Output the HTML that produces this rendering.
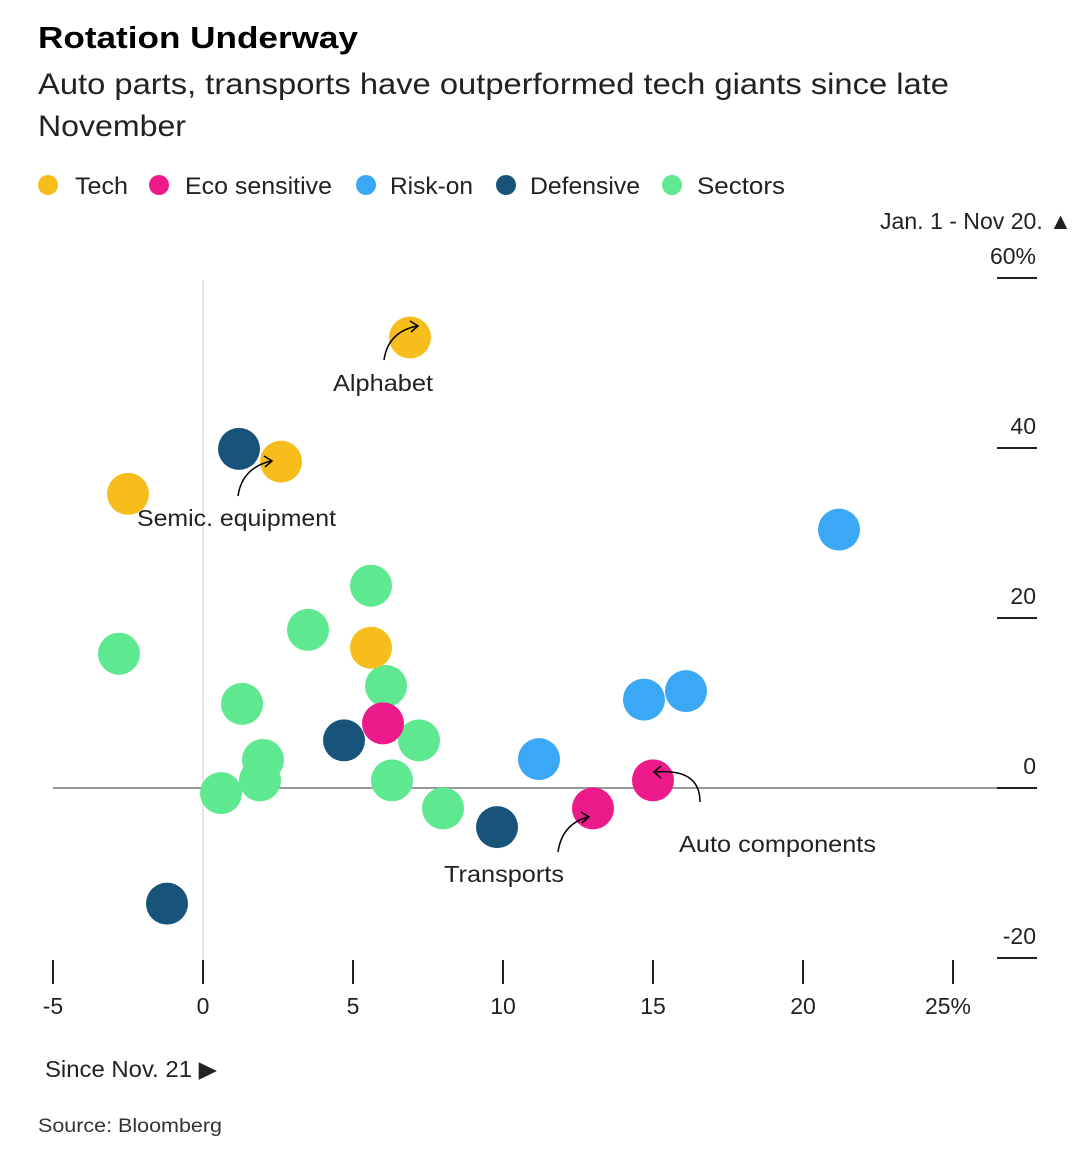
<!DOCTYPE html>
<html><head><meta charset="utf-8"><style>
body{margin:0;background:#fff;font-family:"Liberation Sans",Arial,sans-serif;}
svg text{font-family:"Liberation Sans",Arial,sans-serif;}
</style></head><body>
<svg width="1092" height="1152">
<text x="38" y="48" font-size="31" font-weight="bold" fill="#000" textLength="320" lengthAdjust="spacingAndGlyphs">Rotation Underway</text>
<text x="38" y="94" font-size="30" fill="#222" textLength="911" lengthAdjust="spacingAndGlyphs">Auto parts, transports have outperformed tech giants since late</text>
<text x="38" y="136" font-size="30" fill="#222" textLength="148" lengthAdjust="spacingAndGlyphs">November</text>
<g id="legend"></g>
<text x="880" y="229" font-size="23" fill="#222" textLength="192" lengthAdjust="spacingAndGlyphs">Jan. 1 - Nov 20. ▲</text>
<g id="axes"></g>
<g id="marks"></g>
<g id="annot" font-size="23" fill="#222">
<text x="333" y="391" textLength="100" lengthAdjust="spacingAndGlyphs">Alphabet</text>
<path d="M384 360 Q388 332 417 326" fill="none" stroke="#000" stroke-width="1.5"/><path d="M410 321 L418 326 L411 332" fill="none" stroke="#000" stroke-width="1.5"/>
<text x="137" y="526" textLength="199" lengthAdjust="spacingAndGlyphs">Semic. equipment</text>
<path d="M238 496 Q242 468 271 461" fill="none" stroke="#000" stroke-width="1.5"/><path d="M264 456 L272 461 L265 467" fill="none" stroke="#000" stroke-width="1.5"/>
<text x="444" y="882" textLength="120" lengthAdjust="spacingAndGlyphs">Transports</text>
<path d="M558 852 Q562 824 588 817" fill="none" stroke="#000" stroke-width="1.5"/><path d="M581 812 L589 817 L582 823" fill="none" stroke="#000" stroke-width="1.5"/>
<text x="679" y="852" textLength="197" lengthAdjust="spacingAndGlyphs">Auto components</text>
<path d="M700 802 Q700 768 655 772" fill="none" stroke="#000" stroke-width="1.5"/><path d="M661 766 L654 772 L661 778" fill="none" stroke="#000" stroke-width="1.5"/>
</g>
<text x="45" y="1077" font-size="23" fill="#222" textLength="172" lengthAdjust="spacingAndGlyphs">Since Nov. 21 ▶</text>
<text x="38" y="1132" font-size="19" fill="#333" textLength="184" lengthAdjust="spacingAndGlyphs">Source: Bloomberg</text>
</svg>
<script>
const xTicks=[-5,0,5,10,15,20,25];
const xTickLabels=["-5","0","5","10","15","20","25%"];
const yTicks=[-20,0,20,40,60];
const yTickLabels=["-20","0","20","40","60%"];
const groups=["Tech","Eco sensitive","Risk-on","Defensive","Sectors"];
const colors=["#f7bd1c","#ec1a8a","#3aa8f4","#18537a","#5ee890"];
const techX=[6.9,2.6,-2.5,5.6], techY=[53,38.4,34.6,16.5];
const ecoX=[6.0,13.0,15.0], ecoY=[7.6,-2.4,0.9];
const riskX=[21.2,14.7,16.1,11.2], riskY=[30.4,10.4,11.4,3.4];
const defX=[1.2,4.7,9.8,-1.2], defY=[39.9,5.6,-4.6,-13.6];
const secX=[-2.8,1.3,3.5,5.6,6.1,7.2,2.0,1.9,0.6,6.3,8.0], secY=[15.8,9.9,18.6,23.8,12.0,5.6,3.3,0.9,-0.6,0.9,-2.4];
const NS="http://www.w3.org/2000/svg";
const xs=v=>203+30*v, ys=v=>788-8.5*v;
function mk(t,a,p){const e=document.createElementNS(NS,t);for(const k in a)e.setAttribute(k,a[k]);p.appendChild(e);return e;}
const lg=document.getElementById('legend');
const ldot=[48,159,366,506,672], ltx=[75,185,390,530,697], ltw=[53,147,83,110,88];
groups.forEach((g,i)=>{const c=mk('circle',{cx:ldot[i],cy:185,r:10,fill:colors[i]},lg);


const t=mk('text',{x:ltx[i],y:194,'font-size':24,fill:'#222',textLength:ltw[i],lengthAdjust:'spacingAndGlyphs'},lg);t.textContent=g;

});
const ax=document.getElementById('axes');
const vl=mk('line',{x1:xs(0),x2:xs(0),y1:280,y2:960,stroke:'#ddd','stroke-width':1.5},ax);


const zl=mk('line',{x1:53,x2:1037,y1:ys(0),y2:ys(0),stroke:'#999','stroke-width':2},ax);


xTicks.forEach((v,i)=>{const l=mk('line',{x1:xs(v),x2:xs(v),y1:960,y2:984,stroke:'#222','stroke-width':2},ax);


const t=mk('text',{x:xs(v)+(i==6?-5:0),y:1014,'font-size':23,fill:'#222','text-anchor':'middle'},ax);t.textContent=xTickLabels[i];

});
yTicks.forEach((v,i)=>{const l=mk('line',{x1:997,x2:1037,y1:ys(v),y2:ys(v),stroke:'#222','stroke-width':2},ax);


const t=mk('text',{x:1036,y:ys(v)-14,'font-size':23,fill:'#222','text-anchor':'end'},ax);t.textContent=yTickLabels[i];

});
const mg=document.getElementById('marks');
const sets=[[secX,secY,4],[techX,techY,0],[riskX,riskY,2],[defX,defY,3],[ecoX,ecoY,1]];
sets.forEach(([X,Y,ci])=>{X.forEach((x,j)=>{const c=mk('circle',{cx:xs(x),cy:ys(Y[j]),r:21,fill:colors[ci]},mg);

});});
</script>
</body></html>
